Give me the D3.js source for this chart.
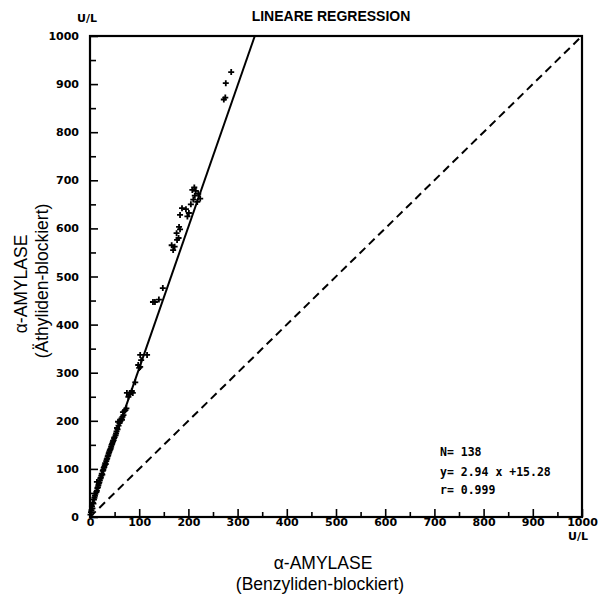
<!DOCTYPE html>
<html>
<head>
<meta charset="utf-8">
<script src="https://cdn.jsdelivr.net/npm/d3@7"></script>
<style>
body{margin:0;background:#fff;}
svg{display:block;}
</style>
</head>
<body>
<div class="graph"></div>
<script>
// benzyliden-blockiert (x) vs äthyliden-blockiert (y), U/L
const benzyliden = [1,2,3,4,5,6,7,8,9,10,11,14,13,14,15,16,17,18,19,20,21,22,23,24,25,26,27,28,29,30,
  31,32,33,34,35,36,37,38,39,40,41,42,43,44,45,46,47,48,49,50,52,53,54,55,56,57,58,60,62,64,
  65,66,67,68,70,72,74,75,78,80,85,87,92,98,100,102,102,104,116,128,132,140,148,166,169,172,176,177,180,181,
  183,183,187,195,198,201,205,208,210,212,213,215,218,220,224,272,275,276,287];
const aethyliden = [5,10,14,22,18,30,28,36,40,44,48,73,52,55,60,62,66,70,72,76,80,82,86,90,88,96,98,102,104,108,
  112,110,116,120,122,126,128,132,135,138,140,142,146,150,152,155,158,160,164,166,170,174,178,185,182,198,190,195,200,205,
  202,208,218,212,220,222,226,258,250,255,262,258,280,316,310,312,337,326,337,447,447,452,476,565,555,562,590,576,580,603,
  598,628,642,640,625,632,650,680,660,685,668,678,655,672,662,868,872,902,925];

const xTicks = [0,100,200,300,400,500,600,700,800,900,1000];
const yTicks = [0,100,200,300,400,500,600,700,800,900,1000];
const minorTicks = [50,150,250,350,450,550,650,750,850,950];

const slope = 2.94, intercept = 15.28;
const statLines = ["N= 138", "y= 2.94 x +15.28", "r= 0.999"];

const width = 599, height = 599;
const plotLeft = 90, plotRight = 582, plotTop = 36, plotBottom = 517;

const svg = d3.select(".graph").append("svg")
    .attr("width", width)
    .attr("height", height);

const x = d3.scaleLinear().domain([0,1000]).range([plotLeft,plotRight]);
const y = d3.scaleLinear().domain([0,1000]).range([plotBottom,plotTop]);

const tickFont = "'DejaVu Sans', sans-serif";
const titleFont = "'Liberation Sans', Arial, sans-serif";

// frame
svg.append("rect")
    .attr("x", plotLeft).attr("y", plotTop)
    .attr("width", plotRight-plotLeft).attr("height", plotBottom-plotTop)
    .attr("fill", "none").attr("stroke", "#000").attr("stroke-width", 2.2);

// x axis (ticks pointing up, inside)
const xAxis = d3.axisBottom(x).tickValues(xTicks).tickSize(-8).tickPadding(1).tickFormat(d3.format("d"));
const gx = svg.append("g").attr("transform", "translate(0," + plotBottom + ")").call(xAxis);
gx.select(".domain").remove();
gx.selectAll("line").attr("stroke-width", 1.6);
gx.selectAll("text").attr("font-family", tickFont).attr("font-weight", "bold").attr("font-size", 11);

const xMinor = d3.axisBottom(x).tickValues(minorTicks).tickSize(-5).tickFormat("");
const gxm = svg.append("g").attr("transform", "translate(0," + plotBottom + ")").call(xMinor);
gxm.select(".domain").remove();
gxm.selectAll("line").attr("stroke-width", 1.6);

// y axis
const yAxis = d3.axisLeft(y).tickValues(yTicks).tickSize(-8).tickPadding(11).tickFormat(d3.format("d"));
const gy = svg.append("g").attr("transform", "translate(" + plotLeft + ",0)").call(yAxis);
gy.select(".domain").remove();
gy.selectAll("line").attr("stroke-width", 1.6);
gy.selectAll("text").attr("font-family", tickFont).attr("font-weight", "bold").attr("font-size", 11);

const yMinor = d3.axisLeft(y).tickValues(minorTicks).tickSize(-6).tickFormat("");
const gym = svg.append("g").attr("transform", "translate(" + plotLeft + ",0)").call(yMinor);
gym.select(".domain").remove();
gym.selectAll("line").attr("stroke-width", 1.6);

// identity line
svg.append("line")
    .attr("x1", x(0)).attr("y1", y(0))
    .attr("x2", x(1000)).attr("y2", y(1000))
    .attr("stroke", "#000").attr("stroke-width", 2)
    .attr("stroke-dasharray", "8,5");

// regression line
const xEnd = (1000 - intercept) / slope;
svg.append("line")
    .attr("x1", x(0)).attr("y1", y(intercept))
    .attr("x2", x(xEnd)).attr("y2", y(1000))
    .attr("stroke", "#000").attr("stroke-width", 2);

// points
const pts = benzyliden.map((d,i) => ({bx: d, ay: aethyliden[i]}));
svg.selectAll("path.pt")
    .data(pts)
    .enter()
    .append("path")
    .attr("class", "pt")
    .attr("transform", d => "translate(" + x(d.bx) + "," + y(d.ay) + ")")
    .attr("d", "M-3,0H3M0,-3V3")
    .attr("stroke", "#000")
    .attr("stroke-width", 1.8);

// units
svg.append("text").attr("x", 87).attr("y", 22).attr("text-anchor", "middle")
    .attr("font-family", tickFont).attr("font-weight", "bold").attr("font-size", 11).text("U/L");
svg.append("text").attr("x", 578).attr("y", 540).attr("text-anchor", "middle")
    .attr("font-family", tickFont).attr("font-weight", "bold").attr("font-size", 11).text("U/L");

// title
svg.append("text").attr("x", 331).attr("y", 21).attr("text-anchor", "middle")
    .attr("font-family", titleFont).attr("font-weight", "bold")
    .attr("font-size", 14).text("LINEARE REGRESSION");

// axis titles
svg.append("text").attr("x", 323).attr("y", 569).attr("text-anchor", "middle")
    .attr("font-family", titleFont).attr("font-size", 17.5).text("α-AMYLASE");
svg.append("text").attr("x", 320).attr("y", 590).attr("text-anchor", "middle")
    .attr("font-family", titleFont).attr("font-size", 17.5).text("(Benzyliden-blockiert)");

svg.append("text").attr("transform", "translate(27,284) rotate(-90)").attr("text-anchor", "middle")
    .attr("font-family", titleFont).attr("font-size", 17.5).text("α-AMYLASE");
svg.append("text").attr("transform", "translate(48,281) rotate(-90)").attr("text-anchor", "middle")
    .attr("font-family", titleFont).attr("font-size", 17.5).text("(Äthyliden-blockiert)");

// stats text
svg.selectAll("text.stat")
    .data(statLines)
    .enter()
    .append("text")
    .attr("class", "stat")
    .attr("x", 440)
    .attr("y", (d,i) => [456, 476, 494][i])
    .attr("font-family", "'DejaVu Sans Mono', monospace")
    .attr("font-weight", "bold")
    .attr("font-size", 11.5)
    .text(d => d);
</script>
</body>
</html>
